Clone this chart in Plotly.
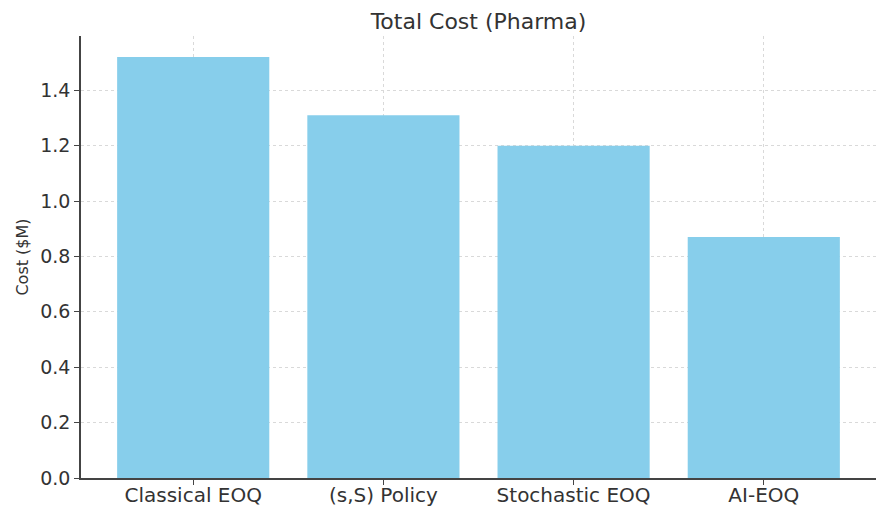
import plotly.graph_objects as go

categories = ["Classical EOQ", "(s,S) Policy", "Stochastic EOQ", "AI-EOQ"]
costs = [1.52, 1.31, 1.20, 0.87]
y_ticks = [0.0, 0.2, 0.4, 0.6, 0.8, 1.0, 1.2, 1.4]

fig = go.Figure(go.Bar(
    x=categories, y=costs, marker_color="#87CEEB", marker_line_width=0, width=0.8,
))

fig.update_layout(
    width=878, height=506,
    margin=dict(l=81, r=2, t=36, b=28, autoexpand=False),
    plot_bgcolor="white", paper_bgcolor="white",
    font=dict(family="DejaVu Sans", color="#333333"),
    title=dict(text="Total Cost (Pharma)", xref="paper", x=0.5, xanchor="center",
               yref="container", y=0.958, yanchor="middle",
               font=dict(size=22, color="#333333")),
    showlegend=False,
)
fig.update_xaxes(
    range=[-0.59, 3.59], showline=True, linecolor="#444444", linewidth=1.5,
    ticks="outside", ticklen=5, tickcolor="#444444", tickfont=dict(size=20),
    ticklabelstandoff=-7,
    showgrid=True, gridcolor="#d9d9d9", griddash="dot", gridwidth=1, automargin=False,
)
fig.update_yaxes(
    range=[0, 1.596], showline=True, linecolor="#444444", linewidth=1.5,
    ticks="outside", ticklen=5, tickcolor="#444444", tickfont=dict(size=19),
    tickvals=y_ticks, tickformat=".1f", automargin=False,
    showgrid=True, gridcolor="#d9d9d9", griddash="dot", gridwidth=1, zeroline=False,
    title=dict(text="Cost ($M)", font=dict(size=16), standoff=8),
)
fig.write_html("out.html", config={"displayModeBar": False},
               post_script="document.body.style.margin='0';")
